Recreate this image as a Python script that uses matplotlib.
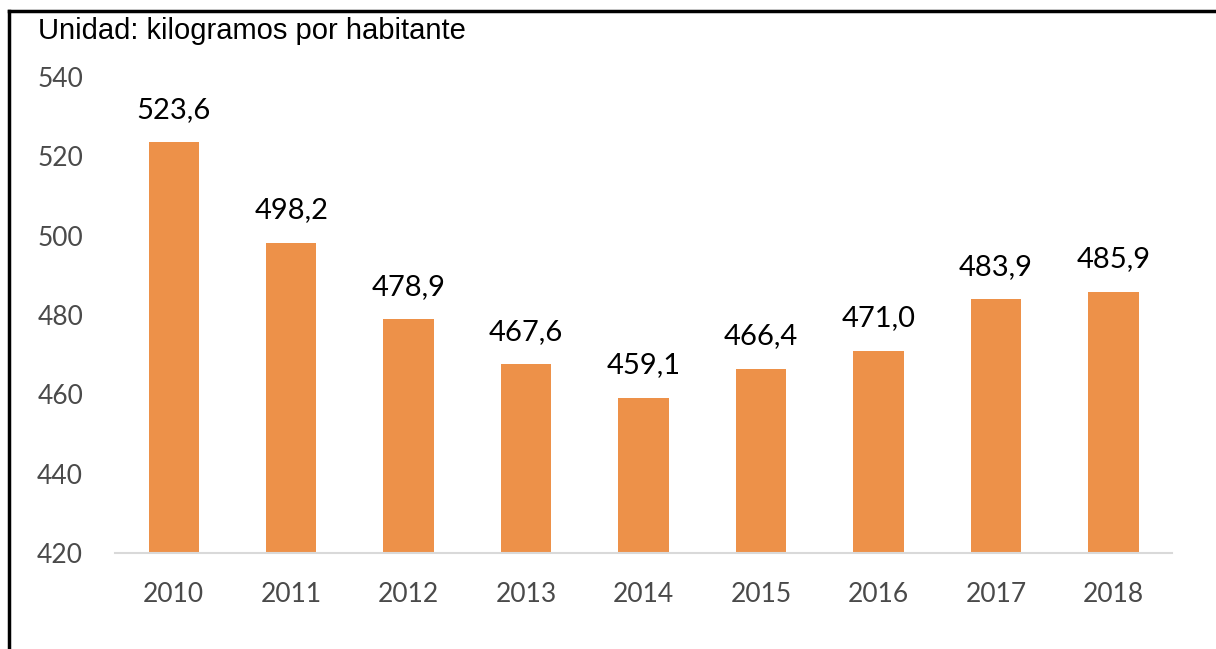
import numpy as np
import matplotlib.pyplot as plt
from matplotlib.lines import Line2D

# data
years = ['2010', '2011', '2012', '2013', '2014', '2015', '2016', '2017', '2018']
kg_per_person = [523.6, 498.2, 478.9, 467.6, 459.1, 466.4, 471.0, 483.9, 485.9]
y_ticks = [420, 440, 460, 480, 500, 520, 540]

bar_color = '#ED9149'
tick_color = '#4A4A4A'
num_font = 'Lato'

fig = plt.figure(figsize=(12.16, 6.49), dpi=100)
ax = fig.add_axes([0.0946, 0.148, 0.8692, 0.7334])

x = np.arange(len(years))
bars = ax.bar(x, kg_per_person, width=0.43, color=bar_color, zorder=2)

ax.set_xlim(-0.5, len(years) - 0.5)
ax.set_ylim(420, 540)
ax.set_yticks(y_ticks)
ax.set_yticklabels([str(t) for t in y_ticks], family=num_font, fontsize=19, color=tick_color)
ax.set_xticks(x)
ax.set_xticklabels(years, family=num_font, fontsize=19, color=tick_color)
ax.tick_params(axis='both', length=0)
ax.tick_params(axis='y', pad=23)
ax.tick_params(axis='x', pad=21)

for side in ['top', 'right', 'left']:
    ax.spines[side].set_visible(False)
ax.spines['bottom'].set_color('#D9D9D9')
ax.spines['bottom'].set_linewidth(1.5)

for xi, v in zip(x, kg_per_person):
    label = ('%.1f' % v).replace('.', ',')
    ax.annotate(label, (xi, v), xytext=(0, 14), textcoords='offset points',
                ha='center', va='bottom', family=num_font, fontsize=21, color='black')

fig.text(0.031, 0.953, 'Unidad: kilogramos por habitante', family='Liberation Sans',
         fontsize=21, color='black', ha='left', va='center')

# frame lines (left and top)
fig.add_artist(Line2D([0.0074, 0.0074], [0.0, 0.9830], transform=fig.transFigure,
                      color='black', linewidth=2.5))
fig.add_artist(Line2D([0.0074, 1.0], [0.9830, 0.9830], transform=fig.transFigure,
                      color='black', linewidth=2.5))

plt.savefig('out.png', dpi=100)
